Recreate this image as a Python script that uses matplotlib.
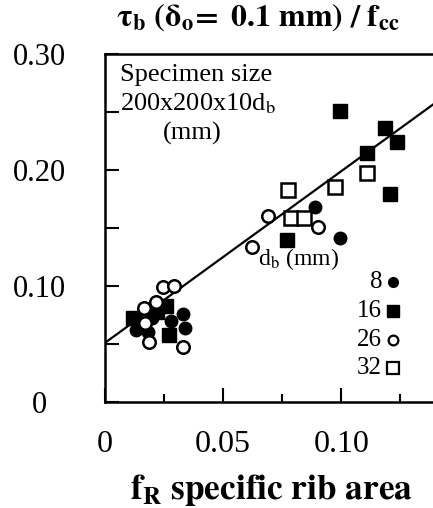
import matplotlib
matplotlib.use('Agg')
import matplotlib.pyplot as plt
import numpy as np

plt.rcParams['font.family'] = ['Liberation Serif', 'DejaVu Serif']
plt.rcParams['mathtext.fontset'] = 'stix'

# bond strength ratio vs specific rib area, by bar diameter
d8_x = [0.013, 0.018, 0.020, 0.028, 0.033, 0.034, 0.089, 0.0996]
d8_y = [0.062, 0.060, 0.072, 0.070, 0.076, 0.064, 0.168, 0.141]

d16_x = [0.012, 0.016, 0.022, 0.027, 0.026, 0.077, 0.0996, 0.111, 0.1186, 0.1236, 0.1207]
d16_y = [0.072, 0.066, 0.078, 0.058, 0.083, 0.140, 0.251, 0.215, 0.236, 0.224, 0.179]

d26_x = [0.0245, 0.029, 0.0215, 0.0165, 0.017, 0.0186, 0.033, 0.0624, 0.0688, 0.090]
d26_y = [0.099, 0.100, 0.086, 0.081, 0.068, 0.052, 0.047, 0.134, 0.160, 0.151]

d32_x = [0.0776, 0.0785, 0.084, 0.0975, 0.111]
d32_y = [0.183, 0.159, 0.159, 0.185, 0.197]

# regression line
fit_intercept = 0.051
fit_slope = 1.48

legend_sizes = ['8', '16', '26', '32']

fig = plt.figure(figsize=(4.33, 5.08), dpi=100)
ax = fig.add_axes([0.2425, 0.2087, 0.7575, 0.685])

xline = np.array([0, 0.14])
ax.plot(xline, fit_intercept + fit_slope * xline, color='black', lw=1.6, zorder=2)

ax.plot(d8_x, d8_y, 'o', color='black', ms=9, zorder=3)
ax.plot(d16_x, d16_y, 's', color='black', ms=10, zorder=3)
ax.plot(d26_x, d26_y, 'o', mfc='white', mec='black', mew=1.8, ms=9, zorder=4)
ax.plot(d32_x, d32_y, 's', mfc='white', mec='black', mew=1.8, ms=10, zorder=4)

ax.set_xlim(0, 0.1388)
ax.set_ylim(0, 0.30)

ax.spines['right'].set_visible(False)
for s in ['left', 'bottom', 'top']:
    ax.spines[s].set_linewidth(1.8)

ax.set_xticks([0, 0.05, 0.10])
ax.set_xticklabels(['0', '0.05', '0.10'])
ax.set_xticks([0.025, 0.075, 0.125], minor=True)
ax.set_yticks([0, 0.10, 0.20, 0.30])
ax.set_yticklabels(['0', '0.10', '0.20', '0.30'])
ax.set_yticks([0.05, 0.15, 0.25], minor=True)

ax.tick_params(axis='x', which='major', direction='in', length=10, width=1.5,
               labelsize=23, pad=20, top=False)
ax.tick_params(axis='x', which='minor', direction='in', length=6, width=1.5, top=False)
ax.tick_params(axis='y', which='both', direction='in', length=10, width=1.5,
               labelsize=22, pad=47, right=False)
for lab in ax.get_yticklabels():
    lab.set_horizontalalignment('center')

# annotations
ax.text(0.046, 0.94, 'Specimen size', transform=ax.transAxes, fontsize=19,
        va='center', ha='left')
ax.text(0.046, 0.856, r'200x200x10d$_\mathrm{b}$', transform=ax.transAxes, fontsize=19,
        va='center', ha='left')
ax.text(0.265, 0.773, '(mm)', transform=ax.transAxes, fontsize=19,
        va='center', ha='center')

# manual legend
ax.text(0.59, 0.41, r'd$_\mathrm{b}$ (mm)', transform=ax.transAxes, fontsize=17,
        va='center', ha='center')
leg_y = [0.345, 0.262, 0.178, 0.098]
leg_style = [dict(marker='o', color='black', ms=7),
             dict(marker='s', color='black', ms=8),
             dict(marker='o', mfc='white', mec='black', mew=1.6, ms=7),
             dict(marker='s', mfc='white', mec='black', mew=1.6, ms=8)]
for lab, yy, st in zip(legend_sizes, leg_y, leg_style):
    ax.text(0.845, yy, lab, transform=ax.transAxes, fontsize=18, va='center', ha='right')
    ax.plot([0.878], [yy], linestyle='none', transform=ax.transAxes, clip_on=False, **st)

fig.text(0.595, 0.965, r'$\mathbf{\tau_b\ (\delta_o\!=\ 0.1\ mm)\ /\ f_{cc}}$',
         fontsize=23, ha='center', va='center')
fig.text(0.628, 0.035, r'$\mathbf{f_R\ specific\ rib\ area}$',
         fontsize=25.5, ha='center', va='center')

fig.savefig('out.png', dpi=100)
